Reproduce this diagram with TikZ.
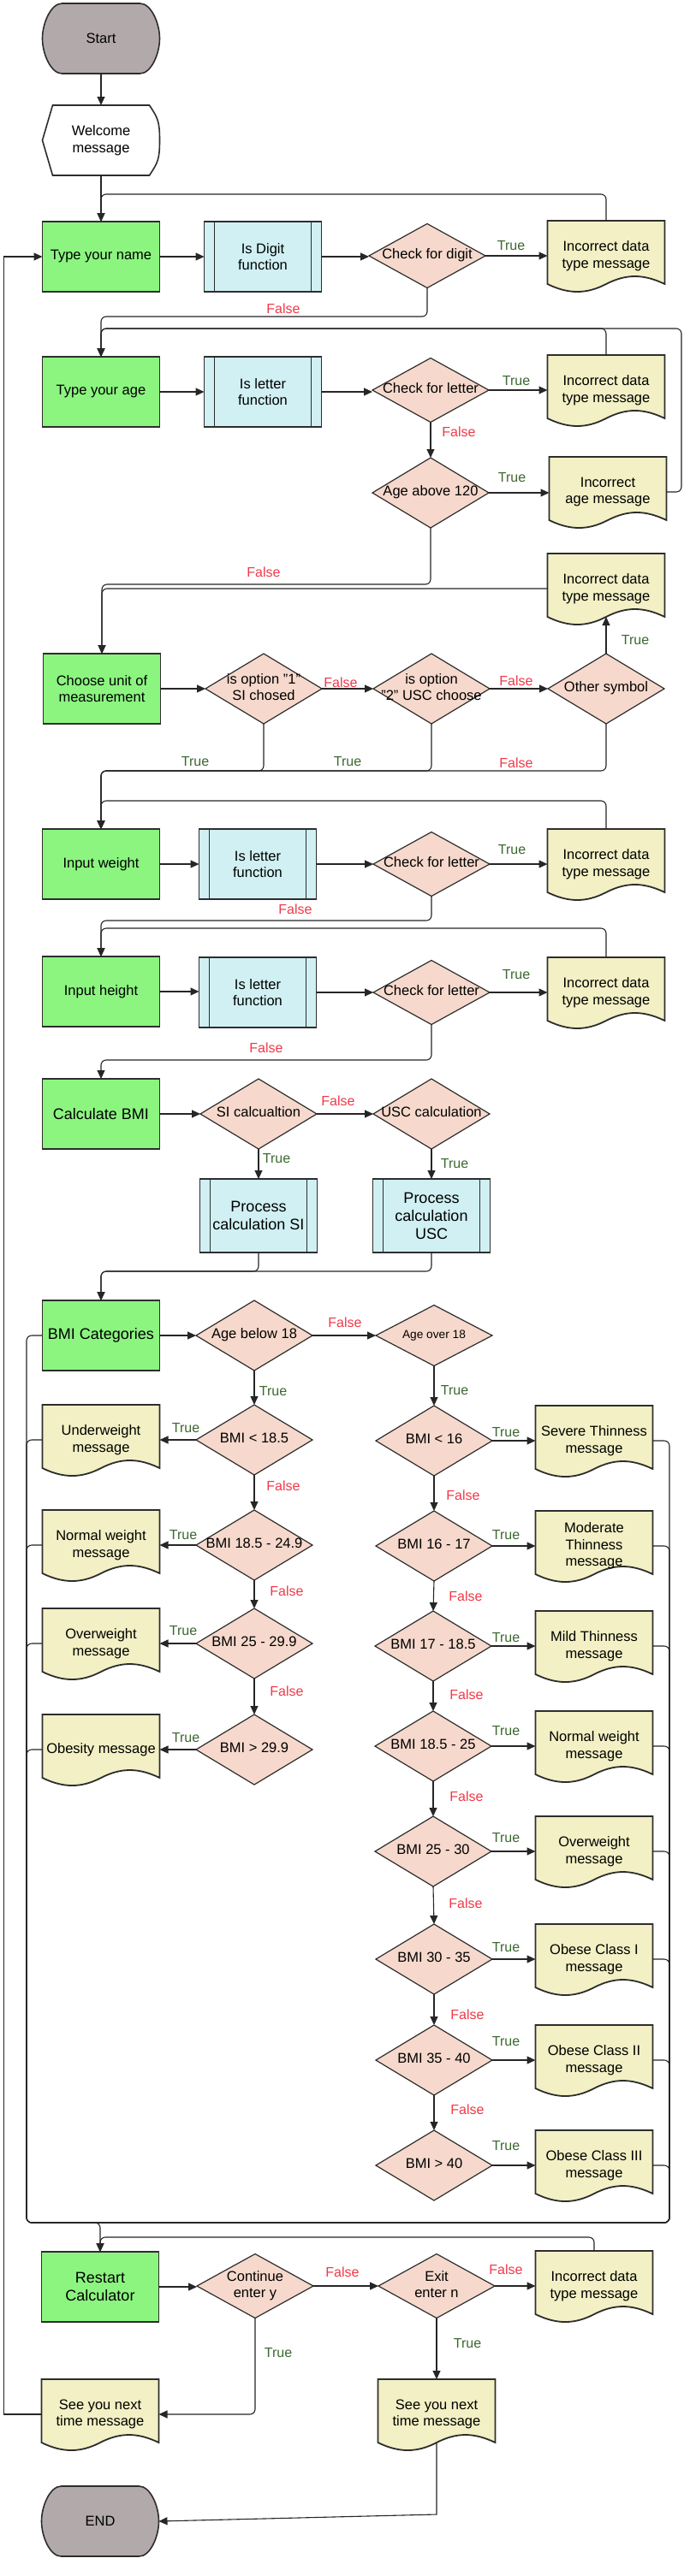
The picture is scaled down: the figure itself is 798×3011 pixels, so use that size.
\documentclass[tikz,border=0pt]{standalone}
\usepackage{fontspec}
\setmainfont{Liberation Sans}
\usetikzlibrary{shapes.geometric,arrows.meta,backgrounds,calc}
\definecolor{gr}{RGB}{140,245,128}
\definecolor{cy}{RGB}{208,240,243}
\definecolor{pk}{RGB}{246,217,204}
\definecolor{yl}{RGB}{242,240,196}
\definecolor{gy}{RGB}{178,170,170}
\definecolor{bord}{RGB}{45,45,45}
\definecolor{truec}{RGB}{60,105,48}
\definecolor{falsec}{RGB}{240,58,74}
\newcommand\fsN{\fontsize{16.5}{19.5}\selectfont}
\newcommand\fsB{\fontsize{18}{21}\selectfont}
\newcommand\fsS{\fontsize{13.7}{16}\selectfont}
\newcommand\fsL{\fontsize{16}{19}\selectfont}
\newcommand\dt[1]{\makebox[0pt]{\begin{tabular}{@{}c@{}}#1\end{tabular}}}
\tikzset{
  base/.style={font=\fsN, align=center, inner sep=0pt, outer sep=0pt},
  greenbox/.style={base, rectangle, draw=bord, line width=1.8pt, fill=gr, minimum width=137pt, minimum height=82pt},
  procbox/.style={base, rectangle, draw=bord, line width=1.8pt, fill=cy, minimum width=137pt, minimum height=82pt,
    path picture={\draw[bord, line width=1.4pt] ([xshift=12pt]path picture bounding box.north west) -- ([xshift=12pt]path picture bounding box.south west);
      \draw[bord, line width=1.4pt] ([xshift=-12pt]path picture bounding box.north east) -- ([xshift=-12pt]path picture bounding box.south east);}},
  dia/.style={base, diamond, draw=bord, line width=1.2pt, fill=pk, minimum width=136pt, minimum height=82pt},
  docbox/.style={base, rectangle, minimum width=137pt, minimum height=82pt},
  termbox/.style={base, rectangle, minimum width=137pt, minimum height=82pt},
  conn/.style={draw=black!85, line width=1.1pt, rounded corners=6pt},
  arr/.style={conn, -{Triangle[length=10pt,width=9pt]}},
  tl/.style={font=\fsL, text=truec, inner sep=0pt},
  fl/.style={font=\fsL, text=falsec, inner sep=0pt},
  docline/.style={fill=yl, draw=bord, line width=1.8pt},
}
\begin{document}
\begin{tikzpicture}[x=1pt,y=-1pt]
\useasboundingbox (0,0) rectangle (798,3011);

% ---- nodes ----
\node[termbox] (start) at (118,45) {Start};
\node[termbox] (welcome) at (118,164) {Welcome\\message};
\node[greenbox] (name) at (118,300) {Type your name};
\node[procbox] (isdigit) at (307,300) {Is Digit\\function};
\node[dia, minimum height=75pt] (chkdigit) at (499,299) {\dt{Check for digit}};
\node[docbox] (err1) at (708,299) {Incorrect data\\type message};

\node[greenbox] (age) at (118,458) {Type your age};
\node[procbox] (isletter1) at (307,458) {Is letter\\function};
\node[dia, minimum height=75pt] (chkletter1) at (503,456) {\dt{Check for letter}};
\node[docbox] (err2) at (708,456) {Incorrect data\\type message};
\node[dia] (age120) at (503,576) {\dt{Age above 120}};
\node[docbox] (errage) at (710,575) {Incorrect\\age message};
\node[docbox] (err3) at (708,688) {Incorrect data\\type message};

\node[greenbox] (unit) at (119,805) {Choose unit of\\measurement};
\node[dia] (opt1) at (308,805) {\dt{is option "1"\\SI chosed}};
\node[dia] (opt2) at (504,805) {\dt{is option\\"2" USC choose}};
\node[dia] (other) at (708,805) {\dt{Other symbol}};

\node[greenbox] (weight) at (118,1010) {Input weight};
\node[procbox] (isletter2) at (301,1010) {Is letter\\function};
\node[dia, minimum height=75pt] (chkletter2) at (504,1010) {\dt{Check for letter}};
\node[docbox] (err4) at (708,1010) {Incorrect data\\type message};

\node[greenbox] (height) at (118,1159) {Input height};
\node[procbox] (isletter3) at (301,1160) {Is letter\\function};
\node[dia, minimum height=75pt] (chkletter3) at (504,1160) {\dt{Check for letter}};
\node[docbox] (err5) at (708,1160) {Incorrect data\\type message};

\node[greenbox, font=\fsB] (calc) at (118,1302) {Calculate BMI};
\node[dia] (sicalc) at (302,1302) {\dt{SI calcualtion}};
\node[dia] (usccalc) at (504,1302) {\dt{USC calculation}};
\node[procbox, font=\fsB, minimum height=86pt] (procsi) at (302,1421) {Process\\calculation SI};
\node[procbox, font=\fsB, minimum height=86pt] (procusc) at (504,1421) {Process\\calculation\\USC};

\node[greenbox, font=\fsB] (cat) at (118,1561) {BMI Categories};
\node[dia] (below18) at (297,1561) {\dt{Age below 18}};
\node[dia, minimum height=71pt, font=\fsS] (over18) at (507,1561) {\dt{Age over 18}};

\node[dia] (l1) at (297,1683) {\dt{BMI < 18.5}};
\node[docbox] (under) at (118,1683) {Underweight\\message};
\node[dia] (l2) at (297,1806) {\dt{BMI 18.5 - 24.9}};
\node[docbox] (normL) at (118,1806) {Normal weight\\message};
\node[dia] (l3) at (297,1921) {\dt{BMI 25 - 29.9}};
\node[docbox] (overL) at (118,1921) {Overweight\\message};
\node[dia] (l4) at (297,2045) {\dt{BMI > 29.9}};
\node[docbox] (obes) at (118,2045) {Obesity message};

\node[dia] (r1) at (507,1684) {\dt{BMI < 16}};
\node[docbox] (severe) at (694,1684) {Severe Thinness\\message};
\node[dia] (r2) at (507,1807) {\dt{BMI 16 - 17}};
\node[docbox] (moderate) at (694,1807) {Moderate\\Thinness\\message};
\node[dia] (r3) at (506,1924) {\dt{BMI 17 - 18.5}};
\node[docbox] (mild) at (694,1924) {Mild Thinness\\message};
\node[dia] (r4) at (506,2041) {\dt{BMI 18.5 - 25}};
\node[docbox] (normR) at (694,2041) {Normal weight\\message};
\node[dia] (r5) at (506,2164) {\dt{BMI 25 - 30}};
\node[docbox] (overR) at (694,2164) {Overweight\\message};
\node[dia] (r6) at (507,2290) {\dt{BMI 30 - 35}};
\node[docbox] (ob1) at (694,2290) {Obese Class I\\message};
\node[dia] (r7) at (507,2408) {\dt{BMI 35 - 40}};
\node[docbox] (ob2) at (694,2408) {Obese Class II\\message};
\node[dia] (r8) at (507,2531) {\dt{BMI > 40}};
\node[docbox] (ob3) at (694,2531) {Obese Class III\\message};

\node[greenbox, font=\fsB] (restart) at (117,2673) {Restart\\Calculator};
\node[dia, minimum height=75pt] (cont) at (298,2672) {\dt{Continue\\enter y}};
\node[dia, minimum height=75pt] (exit) at (510,2672) {\dt{Exit\\enter n}};
\node[docbox] (err6) at (694,2672) {Incorrect data\\type message};
\node[docbox] (bye1) at (117,2822) {See you next\\time message};
\node[docbox] (bye2) at (510,2822) {See you next\\time message};
\node[termbox] (end) at (117,2947) {END};

% ---- backgrounds for custom shapes ----
\begin{pgfonlayer}{background}
\fill[white] (0,0) rectangle (798,3011);
\foreach \n in {err1,err2,errage,err3,err4,err5,under,normL,overL,obes,severe,moderate,mild,normR,overR,ob1,ob2,ob3,err6,bye1,bye2}{
  \path[docline] (\n.north west) -- (\n.north east) -- ([yshift=8pt]\n.south east)
    .. controls ([xshift=-25pt,yshift=20pt]\n.south east) and ([xshift=-45pt,yshift=20pt]\n.south east) .. ([yshift=8pt]\n.south)
    .. controls ([xshift=-23pt,yshift=-4pt]\n.south) and ([xshift=-44pt,yshift=-4pt]\n.south) .. ([yshift=8pt]\n.south west) -- cycle;
}
\foreach \n in {start,end}{
  \path[fill=gy, draw=bord, line width=1.6pt] ([xshift=23pt]\n.north west) -- ([xshift=-23pt]\n.north east)
    .. controls ([xshift=-10pt]\n.north east) and ([yshift=18pt]\n.east) .. (\n.east)
    .. controls ([yshift=-18pt]\n.east) and ([xshift=-10pt]\n.south east) .. ([xshift=-23pt]\n.south east)
    -- ([xshift=23pt]\n.south west)
    .. controls ([xshift=10pt]\n.south west) and ([yshift=-18pt]\n.west) .. (\n.west)
    .. controls ([yshift=18pt]\n.west) and ([xshift=10pt]\n.north west) .. cycle;
}
\path[fill=white, draw=bord, line width=1.6pt] ([xshift=12pt]welcome.north west) -- ([xshift=-12pt]welcome.north east)
  .. controls ([xshift=-2pt,yshift=-15pt]welcome.north east) and ([yshift=22pt]welcome.east) .. (welcome.east)
  .. controls ([yshift=-22pt]welcome.east) and ([xshift=-2pt,yshift=15pt]welcome.south east) .. ([xshift=-12pt]welcome.south east)
  -- ([xshift=12pt]welcome.south west) -- (welcome.west) -- cycle;
\end{pgfonlayer}

% ---- connectors ----
\draw[arr] (start) -- (welcome);
\draw[arr] (welcome) -- (name);
\draw[arr] (err1.north) -- (err1.north |- 0,227) -- (name.north |- 0,227) -- (name.north);
\draw[arr] (name.east) -- (name.east -| isdigit.west);
\draw[arr] (isdigit.east) -- (isdigit.east -| chkdigit.west);
\draw[arr] (chkdigit.east) -- (chkdigit.east -| err1.west);
\draw[arr] (chkdigit.south) -- (chkdigit.south |- 0,370) -- (age.north |- 0,370) -- (age.north);

\draw[arr] (err2.north) -- (err2.north |- 0,384) -- (age.north |- 0,384) -- (age.north);
\draw[arr] (errage.east) -- (errage.east -| 796,0) -- (796,384) -- (age.north |- 0,384) -- (age.north);
\draw[arr] (age.east) -- (age.east -| isletter1.west);
\draw[arr] (isletter1.east) -- (isletter1.east -| chkletter1.west);
\draw[arr] (chkletter1.east) -- (chkletter1.east -| err2.west);
\draw[arr] (chkletter1.south) -- (age120.north);
\draw[arr] (age120.east) -- (age120.east -| errage.west);
\draw[arr] (age120.south) -- (age120.south |- 0,683) -- (unit.north |- 0,683) -- (unit.north);
\draw[arr] (err3.west) -- (err3.west -| unit.north) -- (unit.north);

\draw[arr] (unit.east) -- (unit.east -| opt1.west);
\draw[arr] (opt1.east) -- (opt2.west);
\draw[arr] (opt2.east) -- (other.west);
\draw[arr] (other.north) -- ([yshift=8pt]err3.south);
\draw[arr] (opt1.south) -- (opt1.south |- 0,901) -- (weight.north |- 0,901) -- (weight.north);
\draw[arr] (opt2.south) -- (opt2.south |- 0,901) -- (weight.north |- 0,901) -- (weight.north);
\draw[arr] (other.south) -- (other.south |- 0,901) -- (weight.north |- 0,901) -- (weight.north);

\draw[arr] (err4.north) -- (err4.north |- 0,936) -- (weight.north |- 0,936) -- (weight.north);
\draw[arr] (weight.east) -- (weight.east -| isletter2.west);
\draw[arr] (isletter2.east) -- (isletter2.east -| chkletter2.west);
\draw[arr] (chkletter2.east) -- (chkletter2.east -| err4.west);
\draw[arr] (chkletter2.south) -- (chkletter2.south |- 0,1076) -- (height.north |- 0,1076) -- (height.north);

\draw[arr] (err5.north) -- (err5.north |- 0,1085) -- (height.north |- 0,1085) -- (height.north);
\draw[arr] (height.east) -- (height.east -| isletter3.west);
\draw[arr] (isletter3.east) -- (isletter3.east -| chkletter3.west);
\draw[arr] (chkletter3.east) -- (chkletter3.east -| err5.west);
\draw[arr] (chkletter3.south) -- (chkletter3.south |- 0,1239) -- (calc.north |- 0,1239) -- (calc.north);

\draw[arr] (calc.east) -- (calc.east -| sicalc.west);
\draw[arr] (sicalc.east) -- (usccalc.west);
\draw[arr] (sicalc.south) -- (procsi.north);
\draw[arr] (usccalc.south) -- (procusc.north);
\draw[arr] (procsi.south) -- (procsi.south |- 0,1486) -- (cat.north |- 0,1486) -- (cat.north);
\draw[arr] (procusc.south) -- (procusc.south |- 0,1486) -- (cat.north |- 0,1486) -- (cat.north);

\draw[arr] (cat.east) -- (cat.east -| below18.west);
\draw[arr] (below18.east) -- (below18.east -| over18.west);
\draw[arr] (below18.south) -- (l1.north);
\draw[arr] (l1.south) -- (l2.north);
\draw[arr] (l2.south) -- (l3.north);
\draw[arr] (l3.south) -- (l4.north);
\draw[arr] (l1.west) -- (l1.west -| under.east);
\draw[arr] (l2.west) -- (l2.west -| normL.east);
\draw[arr] (l3.west) -- (l3.west -| overL.east);
\draw[arr] (l4.west) -- (l4.west -| obes.east);

\draw[arr] (over18.south) -- (r1.north);
\draw[arr] (r1.south) -- (r2.north);
\draw[arr] (r2.south) -- (r3.north);
\draw[arr] (r3.south) -- (r4.north);
\draw[arr] (r4.south) -- (r5.north);
\draw[arr] (r5.south) -- (r6.north);
\draw[arr] (r6.south) -- (r7.north);
\draw[arr] (r7.south) -- (r8.north);
\draw[arr] (r1.east) -- (r1.east -| severe.west);
\draw[arr] (r2.east) -- (r2.east -| moderate.west);
\draw[arr] (r3.east) -- (r3.east -| mild.west);
\draw[arr] (r4.east) -- (r4.east -| normR.west);
\draw[arr] (r5.east) -- (r5.east -| overR.west);
\draw[arr] (r6.east) -- (r6.east -| ob1.west);
\draw[arr] (r7.east) -- (r7.east -| ob2.west);
\draw[arr] (r8.east) -- (r8.east -| ob3.west);

% frame collecting the messages
\draw[arr] (cat.west) -- (cat.west -| 31,0) -- (31,2598) -- (restart.north |- 0,2598) -- (restart.north);
\foreach \m in {under,normL,overL,obes}{
  \draw[conn] (\m.west) -- (\m.west -| 31,0) -- (31,2598) -- (restart.north |- 0,2598);
}
\foreach \m in {severe,moderate,mild,normR,overR,ob1,ob2,ob3}{
  \draw[conn] (\m.east) -- (\m.east -| 782,0) -- (782,2598) -- (restart.north |- 0,2598);
}
\draw[arr] (err6.north) -- (err6.north |- 0,2615) -- (restart.north |- 0,2615) -- (restart.north);

\draw[arr] (restart.east) -- (restart.east -| cont.west);
\draw[arr] (cont.east) -- (exit.west);
\draw[arr] (exit.east) -- (exit.east -| err6.west);
\draw[arr] (cont.south) -- (cont.south |- bye1.east) -- (bye1.east);
\draw[arr] (exit.south) -- (bye2.north);
\draw[arr, rounded corners=0pt] (bye1.west) -- (bye1.west -| 4.6,0) -- (4.6,300) -- (name.west);
\draw[arr, rounded corners=0pt] ([yshift=8pt]bye2.south) -- ([yshift=8pt]bye2.south |- end.east) -- (end.east);

% ---- labels ----
\node[tl] (t1) at (597,287) {True};
\node[fl] (f1) at (331,361) {False};
\node[tl] (t2) at (603,445) {True};
\node[fl] (f2) at (536,505) {False};
\node[tl] (t3) at (598,558) {True};
\node[fl] (f3) at (308,669) {False};
\node[tl] (t4) at (742,748) {True};
\node[fl] (f4) at (398,798) {False};
\node[fl] (f5) at (603,796) {False};
\node[tl] (t5) at (228,890) {True};
\node[tl] (t6) at (406,890) {True};
\node[fl] (f6) at (603,892) {False};
\node[tl] (t7) at (598,993) {True};
\node[fl] (f7) at (345,1063) {False};
\node[tl] (t8) at (603,1139) {True};
\node[fl] (f8) at (311,1225) {False};
\node[fl] (f9) at (395,1287) {False};
\node[tl] (t9) at (323,1354) {True};
\node[tl] (t10) at (531,1360) {True};
\node[fl] (f10) at (403,1546) {False};
\node[tl] (t11) at (319,1626) {True};
\node[tl] (t12) at (531,1625) {True};
\node[tl] (t13) at (217,1669) {True};
\node[fl] (f11) at (331,1737) {False};
\node[tl] (t14) at (214,1794) {True};
\node[fl] (f12) at (335,1860) {False};
\node[tl] (t15) at (214,1906) {True};
\node[fl] (f13) at (335,1977) {False};
\node[tl] (t16) at (217,2031) {True};
\node[tl] (t17) at (591,1674) {True};
\node[fl] (f14) at (541,1748) {False};
\node[tl] (t18) at (591,1794) {True};
\node[fl] (f15) at (544,1866) {False};
\node[tl] (t19) at (591,1914) {True};
\node[fl] (f16) at (545,1981) {False};
\node[tl] (t20) at (591,2023) {True};
\node[fl] (f17) at (545,2100) {False};
\node[tl] (t21) at (591,2148) {True};
\node[fl] (f18) at (544,2225) {False};
\node[tl] (t22) at (591,2276) {True};
\node[fl] (f19) at (546,2355) {False};
\node[tl] (t23) at (591,2386) {True};
\node[fl] (f20) at (546,2466) {False};
\node[tl] (t24) at (591,2508) {True};
\node[fl] (f21) at (400,2656) {False};
\node[fl] (f22) at (591,2653) {False};
\node[tl] (t25) at (325,2750) {True};
\node[tl] (t26) at (546,2739) {True};
\end{tikzpicture}
\end{document}
